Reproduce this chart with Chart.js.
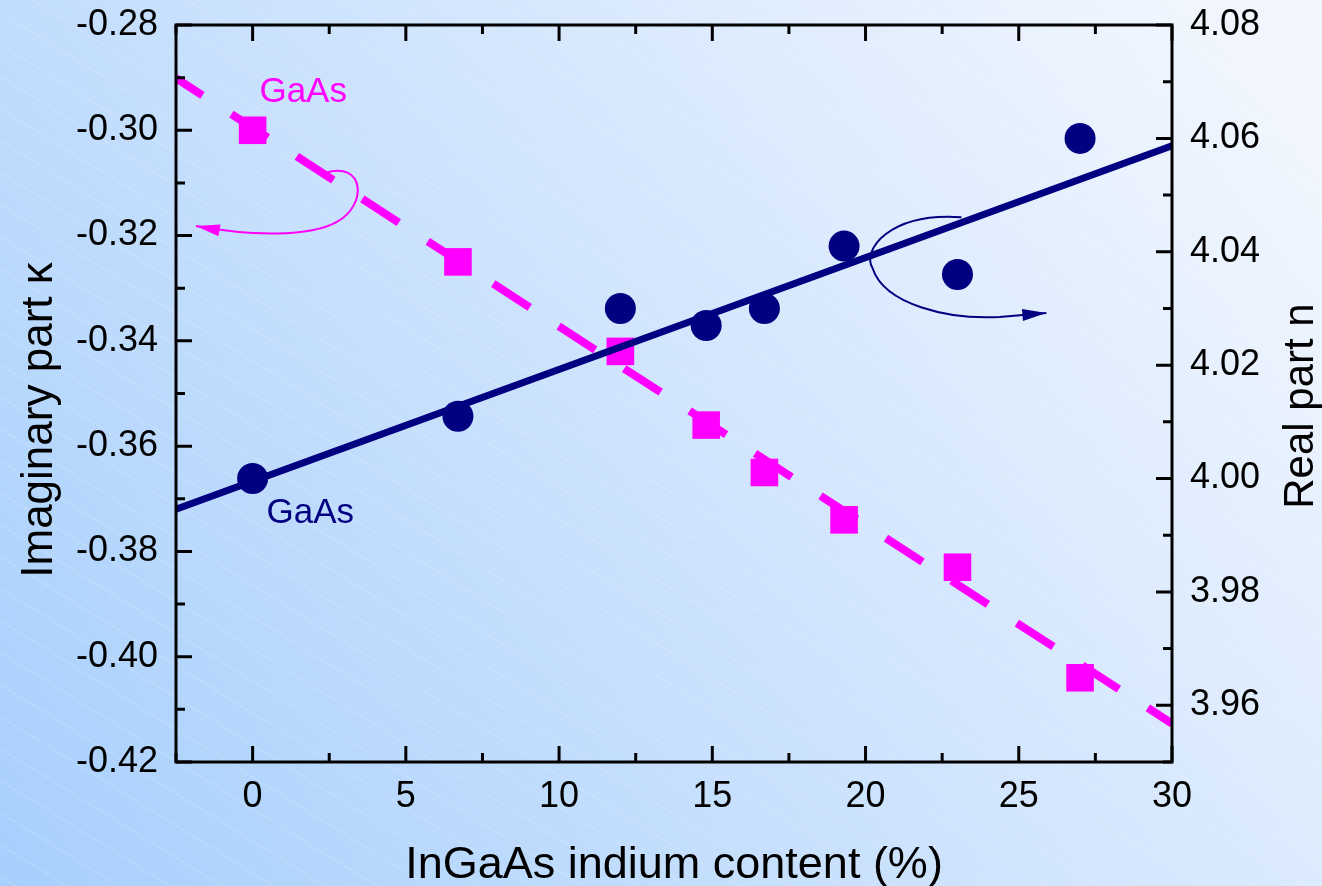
<!DOCTYPE html>
<html>
<head>
<meta charset="utf-8">
<title>InGaAs refractive index</title>
<script src="https://cdn.jsdelivr.net/npm/chart.js@4.4.0/dist/chart.umd.min.js"></script>
<style>
  html, body { margin: 0; padding: 0; }
  canvas { display: block; }
</style>
</head>
<body>
<canvas id="indiumChart" width="1322" height="886"></canvas>
<script>
// Indium content of the InGaAs layers (%)
const indium = [0, 6.7, 12, 14.8, 16.7, 19.3, 23, 27];
// Imaginary part kappa (left axis)
const kappa = [-0.300, -0.325, -0.342, -0.356, -0.365, -0.374, -0.383, -0.404];
// Real part n (right axis)
const realN = [4.000, 4.011, 4.030, 4.027, 4.030, 4.041, 4.036, 4.060];

// Linear fits, given at both ends of the x range
const fitX = [-2.5, 30];
const kappaFit = [-0.2901, -0.4127];
const realFit = [3.9946, 4.0587];

// Major tick labels
const xTicks = [0, 5, 10, 15, 20, 25, 30];
const kappaTicks = [-0.42, -0.40, -0.38, -0.36, -0.34, -0.32, -0.30, -0.28];
const realTicks = [3.96, 3.98, 4.00, 4.02, 4.04, 4.06, 4.08];

const MAGENTA = '#ff00ff';
const NAVY = '#000080';
const FONT = 'Liberation Sans, Arial, sans-serif';

// Curved arrows pointing at the axis each series belongs to (data units)
const kappaArrow = [[2.36, -0.3081], [3.66, -0.3057], [3.76, -0.3142], [2.75, -0.3174],
                    [1.87, -0.3203], [-0.09, -0.3201], [-1.85, -0.3182]];
const realArrow = [[23.13, 4.0461], [20.78, 4.0470], [19.87, 4.0403], [20.23, 4.0371],
                   [20.62, 4.0306], [22.74, 4.0280], [24.37, 4.0285], [25.90, 4.0292]];

function midpoints(arr) {
  const out = [];
  for (let i = 0; i < arr.length - 1; i++) out.push((arr[i] + arr[i + 1]) / 2);
  return out;
}

function arrowHead(ctx, from, tip, len, half) {
  const ang = Math.atan2(tip[1] - from[1], tip[0] - from[0]);
  ctx.beginPath();
  ctx.moveTo(tip[0], tip[1]);
  ctx.lineTo(tip[0] - len * Math.cos(ang) + half * Math.sin(ang), tip[1] - len * Math.sin(ang) - half * Math.cos(ang));
  ctx.lineTo(tip[0] - len * Math.cos(ang) - half * Math.sin(ang), tip[1] - len * Math.sin(ang) + half * Math.cos(ang));
  ctx.closePath();
  ctx.fill();
}

// y axes: fixed width, no extra room for the end labels
function fitY(width) {
  return s => {
    s.width = width;
    s.paddingTop = 0;
    s.paddingBottom = 0;
  };
}

const framePlugin = {
  id: 'frame',
  beforeDraw(chart) {
    const { ctx, width, height } = chart;
    ctx.save();
    const g = ctx.createLinearGradient(0, height, width * 0.9, 0);
    g.addColorStop(0, '#a7cffc');
    g.addColorStop(1, '#f1f6fe');
    ctx.fillStyle = g;
    ctx.fillRect(0, 0, width, height);
    // thin white diagonal hatching
    ctx.strokeStyle = 'rgba(255,255,255,0.22)';
    ctx.lineWidth = 1;
    const slope = 0.62;
    ctx.beginPath();
    for (let c = -width * slope; c < height; c += 32) {
      ctx.moveTo(0, c);
      ctx.lineTo(width, c + width * slope);
    }
    ctx.stroke();
    ctx.restore();
  },
  afterDatasetsDraw(chart) {
    const { ctx, chartArea: a, scales } = chart;
    const sx = scales.x, sy = scales.y, sy2 = scales.y2;
    ctx.save();

    // box
    ctx.strokeStyle = '#000';
    ctx.lineWidth = 3;
    ctx.lineCap = 'butt';
    ctx.strokeRect(a.left, a.top, a.right - a.left, a.bottom - a.top);

    // inward ticks
    ctx.beginPath();
    const major = 16, minor = 9;
    xTicks.forEach(v => {
      const p = sx.getPixelForValue(v);
      ctx.moveTo(p, a.bottom); ctx.lineTo(p, a.bottom - major);
      ctx.moveTo(p, a.top); ctx.lineTo(p, a.top + major);
    });
    midpoints([-5].concat(xTicks)).forEach(v => {
      const p = sx.getPixelForValue(v);
      ctx.moveTo(p, a.bottom); ctx.lineTo(p, a.bottom - minor);
      ctx.moveTo(p, a.top); ctx.lineTo(p, a.top + minor);
    });
    kappaTicks.forEach(v => {
      const p = sy.getPixelForValue(v);
      ctx.moveTo(a.left, p); ctx.lineTo(a.left + major, p);
    });
    midpoints(kappaTicks).forEach(v => {
      const p = sy.getPixelForValue(v);
      ctx.moveTo(a.left, p); ctx.lineTo(a.left + minor, p);
    });
    realTicks.forEach(v => {
      const p = sy2.getPixelForValue(v);
      ctx.moveTo(a.right, p); ctx.lineTo(a.right - major, p);
    });
    midpoints([3.94].concat(realTicks)).forEach(v => {
      const p = sy2.getPixelForValue(v);
      ctx.moveTo(a.right, p); ctx.lineTo(a.right - minor, p);
    });
    ctx.stroke();

    // axis titles
    ctx.fillStyle = '#000';
    ctx.textBaseline = 'alphabetic';
    ctx.textAlign = 'center';
    ctx.font = '45px ' + FONT;
    ctx.fillText('InGaAs indium content (%)', (a.left + a.right) / 2, 878);

    ctx.save();
    ctx.translate(52, 420);
    ctx.rotate(-Math.PI / 2);
    ctx.font = '44px ' + FONT;
    ctx.fillText('Imaginary part \u03ba', 0, 0);
    ctx.restore();

    ctx.save();
    ctx.translate(1313, 406);
    ctx.rotate(-Math.PI / 2);
    ctx.font = '42px ' + FONT;
    ctx.fillText('Real part n', 0, 0);
    ctx.restore();

    // series labels
    ctx.textBaseline = 'middle';
    ctx.font = '35px ' + FONT;
    ctx.fillStyle = MAGENTA;
    ctx.fillText('GaAs', sx.getPixelForValue(1.65), sy.getPixelForValue(-0.2927));
    ctx.fillStyle = NAVY;
    ctx.fillText('GaAs', sx.getPixelForValue(1.88), sy2.getPixelForValue(3.9939));

    // curved arrows
    const drawArrow = (pts, yScale, color) => {
      const p = pts.map(q => [sx.getPixelForValue(q[0]), yScale.getPixelForValue(q[1])]);
      ctx.strokeStyle = color;
      ctx.fillStyle = color;
      ctx.lineWidth = 2;
      ctx.beginPath();
      ctx.moveTo(p[0][0], p[0][1]);
      ctx.bezierCurveTo(p[1][0], p[1][1], p[2][0], p[2][1], p[3][0], p[3][1]);
      ctx.bezierCurveTo(p[4][0], p[4][1], p[5][0], p[5][1], p[6][0], p[6][1]);
      if (p.length > 7) ctx.lineTo(p[7][0], p[7][1]);
      const tip = p[p.length - 1];
      const prev = p[p.length - 2];
      ctx.stroke();
      arrowHead(ctx, prev, tip, 24, 6);
    };
    drawArrow(kappaArrow, sy, MAGENTA);
    drawArrow(realArrow, sy2, NAVY);

    ctx.restore();
  }
};

const tickFont = { family: FONT, size: 36 };

new Chart(document.getElementById('indiumChart'), {
  type: 'scatter',
  data: {
    datasets: [
      {
        label: 'n',
        data: indium.map((x, i) => ({ x: x, y: realN[i] })),
        yAxisID: 'y2',
        pointStyle: 'circle',
        pointRadius: 15.5,
        pointBackgroundColor: NAVY,
        pointBorderColor: NAVY,
        pointBorderWidth: 0,
        order: 1
      },
      {
        label: 'n fit',
        data: fitX.map((x, i) => ({ x: x, y: realFit[i] })),
        yAxisID: 'y2',
        showLine: true,
        borderColor: NAVY,
        borderWidth: 7,
        pointRadius: 0,
        order: 2
      },
      {
        label: 'kappa',
        data: indium.map((x, i) => ({ x: x, y: kappa[i] })),
        yAxisID: 'y',
        pointStyle: 'rect',
        pointRadius: 19.5,
        pointBackgroundColor: MAGENTA,
        pointBorderColor: MAGENTA,
        pointBorderWidth: 0,
        order: 3
      },
      {
        label: 'kappa fit',
        data: fitX.map((x, i) => ({ x: x, y: kappaFit[i] })),
        yAxisID: 'y',
        showLine: true,
        borderColor: MAGENTA,
        borderWidth: 8,
        borderDash: [43.5, 34.5],
        borderDashOffset: 12,
        pointRadius: 0,
        order: 4
      }
    ]
  },
  options: {
    responsive: false,
    animation: false,
    devicePixelRatio: 1,
    events: [],
    layout: { padding: { top: 25, left: 0, right: 0, bottom: 0 } },
    plugins: { legend: { display: false }, tooltip: { enabled: false } },
    scales: {
      x: {
        type: 'linear',
        position: 'bottom',
        min: -2.5,
        max: 30,
        grid: { display: false, drawTicks: false },
        border: { display: false },
        afterBuildTicks: s => { s.ticks = xTicks.map(v => ({ value: v })); },
        afterFit: s => { s.height = 124; s.paddingLeft = 0; s.paddingRight = 0; },
        ticks: { font: tickFont, color: '#000', padding: 13, maxRotation: 0, callback: v => String(v) }
      },
      y: {
        type: 'linear',
        position: 'left',
        min: -0.42,
        max: -0.28,
        grid: { display: false, drawTicks: false },
        border: { display: false },
        afterBuildTicks: s => { s.ticks = kappaTicks.map(v => ({ value: v })); },
        afterFit: fitY(176),
        ticks: { font: tickFont, color: '#000', padding: 18, callback: v => v.toFixed(2) }
      },
      y2: {
        type: 'linear',
        position: 'right',
        min: 3.95,
        max: 4.08,
        grid: { display: false, drawTicks: false },
        border: { display: false },
        afterBuildTicks: s => { s.ticks = realTicks.map(v => ({ value: v })); },
        afterFit: fitY(150),
        ticks: { font: tickFont, color: '#000', padding: 18, callback: v => v.toFixed(2) }
      }
    }
  },
  plugins: [framePlugin]
});
</script>
</body>
</html>
